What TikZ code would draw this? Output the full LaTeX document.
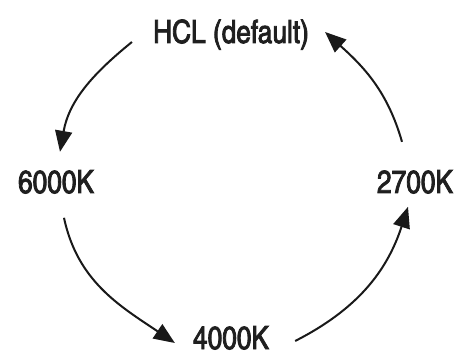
\documentclass[tikz,border=0pt]{standalone}
\usepackage{fontspec}
\setmainfont{TeX Gyre Heros Cn}[FakeBold=2.5]
\usetikzlibrary{arrows.meta}
\tikzset{
  lbl/.style={inner sep=0pt, anchor=base, font=\fontsize{32}{36}\selectfont, text=black!88},
  arr/.style={line width=2pt, black!90, -{Triangle[length=21pt,width=17pt]}}
}
\begin{document}
\begin{tikzpicture}[x=1pt,y=1pt]
\useasboundingbox (0,0) rectangle (458,354);
\node[lbl] (hcl) at (231,311) {HCL (default)};
\node[lbl] (k6000) at (56,161) {6000K};
\node[lbl] (k2700) at (415,161) {2700K};
\node[lbl] (k4000) at (231,5) {4000K};
\draw[arr] ([shift={(-21pt,1pt)}]hcl.base west) to[out=219,in=80] ([shift={(4pt,18pt)}]k6000.north);
\draw[arr] ([shift={(8pt,-24pt)}]k6000.south) to[out=-78,in=146] ([shift={(-18pt,6pt)}]k4000.base west);
\draw[arr] ([shift={(26pt,8pt)}]k4000.base east) to[out=27,in=-108] ([shift={(-7pt,-13pt)}]k2700.south);
\draw[arr] ([shift={(-13pt,28pt)}]k2700.north) to[out=106,in=-42] ([shift={(16pt,11pt)}]hcl.base east);
\end{tikzpicture}
\end{document}
